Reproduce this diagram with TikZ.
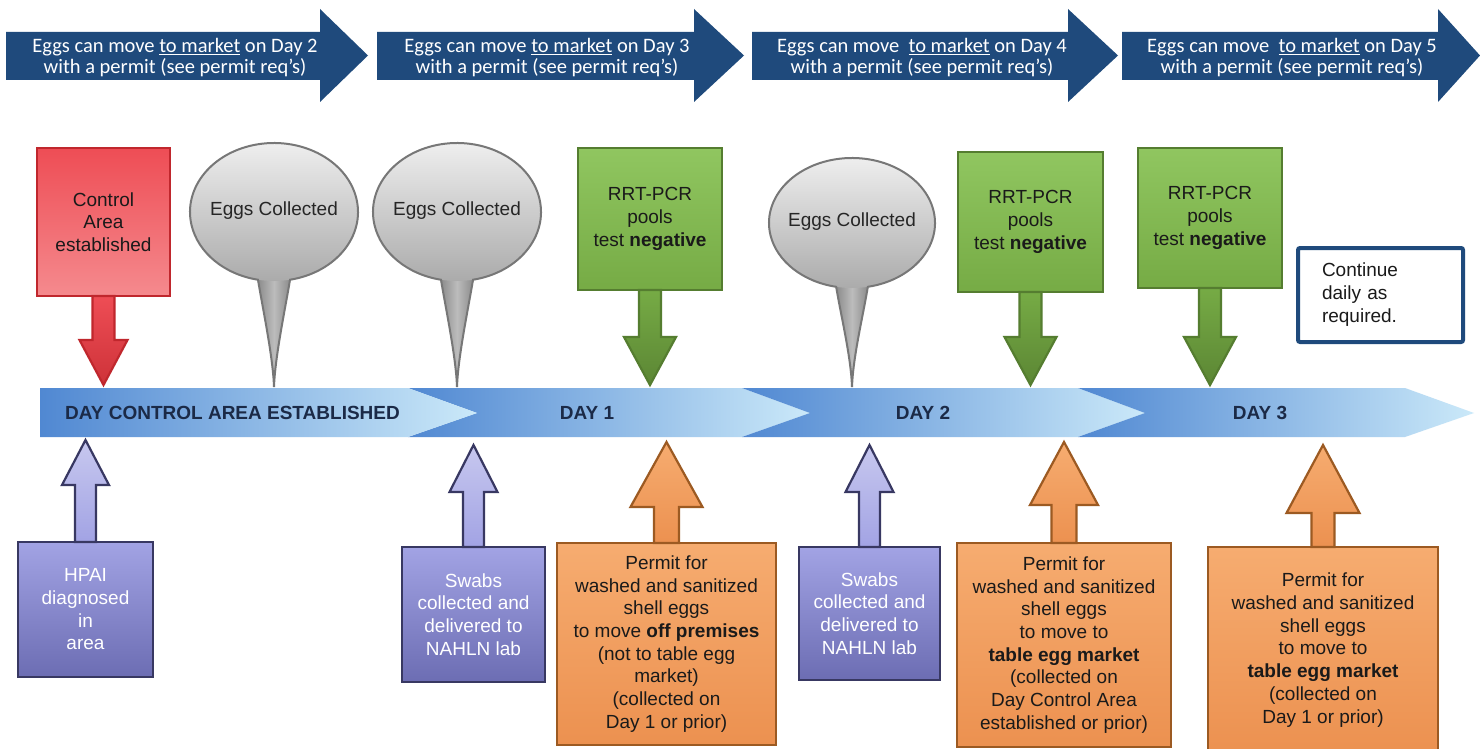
\documentclass[tikz,border=0pt]{standalone}
\usepackage{fontspec}
\setmainfont{Liberation Sans}
\newfontfamily\calfont{Carlito}
\usetikzlibrary{calc}
\definecolor{navy}{HTML}{1F4A7C}
\definecolor{tlL}{HTML}{5088D2}
\definecolor{tlR}{HTML}{CBE9F9}
\definecolor{daytext}{HTML}{1B2A47}
\definecolor{boxtext}{HTML}{1A1A1A}
\definecolor{redD}{HTML}{C0272D}
\definecolor{redT}{HTML}{EE4D55}
\definecolor{redB}{HTML}{F58A8E}
\definecolor{grnD}{HTML}{557D30}
\definecolor{grnT}{HTML}{90C660}
\definecolor{grnB}{HTML}{76AB45}
\definecolor{purD}{HTML}{383862}
\definecolor{purT}{HTML}{A2A3E4}
\definecolor{purB}{HTML}{6C6DB3}
\definecolor{oraD}{HTML}{9C5A22}
\definecolor{oraT}{HTML}{F6AC70}
\definecolor{oraB}{HTML}{EC9150}
\definecolor{balD}{HTML}{777777}
\definecolor{balT}{HTML}{EEEEEE}
\definecolor{balB}{HTML}{ABABAB}
\newcommand\fatarrow[6]{%
  \path[#1] let \p1=(#2), \p2=(#3), \n1={sign(\y2-\y1)} in
   ({\x1-#4pt},\y1) -- ({\x1-#4pt},{\y2-\n1*#6pt}) -- ({\x1-#5pt},{\y2-\n1*#6pt}) -- (\x1,\y2)
   -- ({\x1+#5pt},{\y2-\n1*#6pt}) -- ({\x1+#4pt},{\y2-\n1*#6pt}) -- ({\x1+#4pt},\y1) -- cycle;}
\newcommand\toparrow[3]{%
  \path[topbar] (#1,-32) -- (#2,-32) -- (#2,-9) -- (#3,-55.5) -- (#2,-102) -- (#2,-80) -- (#1,-80) -- cycle;}
\newcommand\eggballoon[6]{% name, cx, cy, rx, ry, tip y
  \path[tailfill] (#2,-#3) ++(-101:#4 and #5) .. controls +(5,-30) and +(-1,30) .. (#2,-#6)
     .. controls +(1,30) and +(-5,-30) .. ($(#2,-#3)+(-79:#4 and #5)$) -- cycle;
  \path[eggfill] (#2,-#3) ellipse [x radius=#4, y radius=#5];
  \draw[eggline] (#2,-#3) ++(-79:#4 and #5) arc[start angle=-79, end angle=259, x radius=#4, y radius=#5]
     .. controls +(5,-30) and +(-1,30) .. (#2,-#6)
     .. controls +(1,30) and +(-5,-30) .. ($(#2,-#3)+(-79:#4 and #5)$) -- cycle;
  \node[eggtext] (#1) at (#2,{-#3+1}) {Eggs Collected};}
\begin{document}
\begin{tikzpicture}[x=1pt,y=1pt,
  topbar/.style={fill=navy},
  toptext/.style={text=white,font=\calfont\fontsize{20.5}{21}\selectfont,align=center,inner sep=0pt},
  seg/.style={left color=tlL,right color=tlR},
  daylabel/.style={font=\bfseries\fontsize{19}{19}\selectfont,text=daytext,inner sep=0pt},
  box/.style={rectangle,outer sep=0pt,inner sep=0pt,align=center,line width=2.2pt,
    font=\fontsize{19}{22.7}\selectfont,text=boxtext},
  redbox/.style={box,draw=redD,top color=redT,bottom color=redB},
  grnbox/.style={box,draw=grnD,top color=grnT,bottom color=grnB},
  purbox/.style={box,draw=purD,top color=purT,bottom color=purB,text=white},
  orabox/.style={box,draw=oraD,top color=oraT,bottom color=oraB},
  redarrow/.style={draw=redD,line width=2.2pt,top color=redT,bottom color=redD!70!redT},
  grnarrow/.style={draw=grnD,line width=2.2pt,top color=grnB,bottom color=grnD!80!grnB},
  purarrow/.style={draw=purD,line width=2.2pt,top color=purT!60!white,bottom color=purT},
  oraarrow/.style={draw=oraD,line width=2.2pt,top color=oraT,bottom color=oraB},
  tailfill/.style={left color=balD!85,right color=balD!85,middle color=balB!80},
  eggfill/.style={top color=balT,bottom color=balB},
  eggline/.style={draw=balD,line width=2pt},
  eggtext/.style={font=\fontsize{19}{22}\selectfont,text=black!85,inner sep=0pt},
  contbox/.style={rectangle,draw=navy,line width=4pt,fill=white,rounded corners=2pt,
    minimum width=165pt,minimum height=94pt,inner xsep=24pt,inner ysep=0pt,text width=117pt,
    align=left,font=\fontsize{19}{23}\selectfont,text=boxtext}
]
\useasboundingbox (0,0) rectangle (1480,-749);
\fill[white] (0,0) rectangle (1480,-749);

% ---------- top banner arrows ----------
\toparrow{6}{320}{368}
\toparrow{377}{694}{744}
\toparrow{752}{1068}{1118}
\toparrow{1122}{1438}{1480}
\node[toptext] (m2) at (175,-57.5) {Eggs can move \underline{to market} on Day 2\\with a permit (see permit req’s)};
\node[toptext] (m3) at (547,-57.5) {Eggs can move \underline{to market} on Day 3\\with a permit (see permit req’s)};
\node[toptext] (m4) at (922,-57.5) {Eggs can move\ \ \underline{to market} on Day 4\\with a permit (see permit req’s)};
\node[toptext] (m5) at (1292,-57.5) {Eggs can move\ \ \underline{to market} on Day 5\\with a permit (see permit req’s)};

% ---------- timeline ----------
\path[seg] (408,-388) -- (742,-388) -- (810,-413) -- (742,-437) -- (408,-437) -- (477,-413) -- cycle;
\path[seg] (742,-388) -- (1078,-388) -- (1145,-413) -- (1078,-437) -- (742,-437) -- (810,-413) -- cycle;
\path[seg] (1078,-388) -- (1405,-388) -- (1474,-413) -- (1405,-437) -- (1078,-437) -- (1145,-413) -- cycle;
\path[seg] (40,-388) -- (408,-388) -- (477,-413) -- (408,-437) -- (40,-437) -- cycle;
\node[daylabel,anchor=west] (d0) at (65,-413) {DAY CONTROL AREA ESTABLISHED};
\node[daylabel] (d1) at (587,-413) {DAY 1};
\node[daylabel] (d2) at (923,-413) {DAY 2};
\node[daylabel] (d3) at (1260,-413) {DAY 3};

% timeline contact points
\coordinate (tR)  at (104,-385);
\coordinate (tG1) at (650,-385);
\coordinate (tG2) at (1030,-385);
\coordinate (tG3) at (1210,-385);
\coordinate (tH)  at (86,-440);
\coordinate (tS1) at (473,-445);
\coordinate (tO1) at (666,-442);
\coordinate (tS2) at (870,-445);
\coordinate (tO2) at (1064,-442);
\coordinate (tO3) at (1323,-445);

% ---------- balloons ----------
\eggballoon{e1}{274}{212}{84}{69}{387}
\eggballoon{e2}{457}{212}{84}{69}{387}
\eggballoon{e3}{852}{223}{83}{65}{387}

% ---------- upper boxes ----------
\node[redbox,minimum width=133pt,minimum height=148pt] (ctrl) at (103.5,-222) {Control\\Area\\established};
\node[grnbox,minimum width=144pt,minimum height=142pt] (g1) at (650,-219) {RRT-PCR\\pools\\test \textbf{negative}};
\node[grnbox,minimum width=145pt,minimum height=140pt] (g2) at (1030.5,-222) {RRT-PCR\\pools\\test \textbf{negative}};
\node[grnbox,minimum width=144pt,minimum height=140pt] (g3) at (1210,-218) {RRT-PCR\\pools\\test \textbf{negative}};
\node[contbox] (cont) at (1380.5,-295) {Continue\\daily as\\required.};

\fatarrow{redarrow}{ctrl.south}{tR}{11}{24}{45}
\fatarrow{grnarrow}{g1.south}{tG1}{11}{26}{48}
\fatarrow{grnarrow}{g2.south}{tG2}{11}{26}{48}
\fatarrow{grnarrow}{g3.south}{tG3}{11}{26}{48}

% ---------- lower boxes ----------
\node[purbox,minimum width=135pt,minimum height=135pt] (hpai) at (85.5,-609.5) {HPAI\\diagnosed\\in\\area};
\node[purbox,minimum width=143pt,minimum height=135pt] (sw1) at (473.5,-614.5) {Swabs\\collected and\\delivered to\\NAHLN lab};
\node[orabox,minimum width=219pt,minimum height=202pt] (o1) at (666.5,-644) {Permit for\\washed and sanitized\\shell eggs\\to move \textbf{off premises}\\(not to table egg\\market)\\(collected on\\Day 1 or prior)};
\node[purbox,minimum width=141pt,minimum height=133pt] (sw2) at (869.5,-613.5) {Swabs\\collected and\\delivered to\\NAHLN lab};
\node[orabox,minimum width=214pt,minimum height=204pt] (o2) at (1064,-645) {Permit for\\washed and sanitized\\shell eggs\\to move to\\\textbf{table egg market}\\(collected on\\Day Control Area\\established or prior)};
\node[orabox,minimum width=230pt,minimum height=206pt] (o3) at (1323,-650) {Permit for\\washed and sanitized\\shell eggs\\to move to\\\textbf{table egg market}\\(collected on\\Day 1 or prior)};

\fatarrow{purarrow}{hpai.north}{tH}{10.5}{23.5}{45}
\fatarrow{purarrow}{sw1.north}{tS1}{10.5}{24}{47}
\fatarrow{oraarrow}{o1.north}{tO1}{12.5}{36}{65}
\fatarrow{purarrow}{sw2.north}{tS2}{10.5}{24}{47}
\fatarrow{oraarrow}{o2.north}{tO2}{12.5}{34}{63}
\fatarrow{oraarrow}{o3.north}{tO3}{11.5}{36.5}{68}
\end{tikzpicture}
\end{document}
